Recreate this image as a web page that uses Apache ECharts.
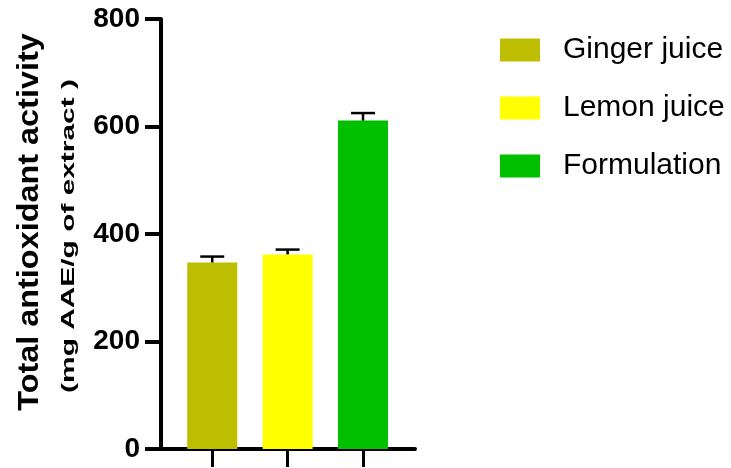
<!DOCTYPE html>
<html>
<head>
<meta charset="UTF-8">
<title>Total antioxidant activity</title>
<script src="https://cdn.jsdelivr.net/npm/echarts@6/dist/echarts.min.js"></script>
<style>
  html, body { margin: 0; padding: 0; background: #fff; }
  #main { width: 731px; height: 468px; }
</style>
</head>
<body>
<div id="main"></div>
<script>
// data
var categories = ['Ginger juice', 'Lemon juice', 'Formulation'];
var means = [347, 362, 611];
var errs = [11, 9, 14];
var colors = ['#BEBE00', '#FFFF00', '#00C000'];
var yTicks = [0, 200, 400, 600, 800];

var font = 'Liberation Sans, Arial, sans-serif';
var chart = echarts.init(document.getElementById('main'));

// one bar series per group so the legend gets three entries
var series = categories.map(function (name, i) {
    return {
        name: name,
        type: 'bar',
        barWidth: 50,
        barGap: '-100%',
        itemStyle: { color: colors[i] },
        data: [[i, means[i]]]
    };
});

// error bars (upper only, GraphPad style)
series.push({
    type: 'custom',
    z: 5,
    data: means.map(function (m, i) { return [i, m, errs[i]]; }),
    renderItem: function (params, api) {
        var x = api.value(0), m = api.value(1), e = api.value(2);
        var base = api.coord([x, m]);
        var top = api.coord([x, m + e]);
        var st = { stroke: '#000', lineWidth: 2.5 };
        return {
            type: 'group',
            children: [
                { type: 'line', shape: { x1: base[0], y1: base[1], x2: top[0], y2: top[1] }, style: st },
                { type: 'line', shape: { x1: top[0] - 12, y1: top[1], x2: top[0] + 12, y2: top[1] }, style: st }
            ]
        };
    }
});

var option = {
    animation: false,
    backgroundColor: '#fff',
    grid: { left: 161, right: 316, top: 19, bottom: 19 },
    legend: {
        orient: 'vertical',
        left: 500,
        top: 35,
        padding: 0,
        itemWidth: 40,
        itemHeight: 23,
        itemGap: 28,
        icon: 'rect',
        data: categories,
        textStyle: { fontFamily: font, fontSize: 30, color: '#000', padding: [0, 0, 0, 18] }
    },
    xAxis: {
        type: 'value',
        min: -0.68,
        max: 2.69,
        interval: 1,
        splitLine: { show: false },
        axisLine: { show: true, onZero: false, lineStyle: { color: '#000', width: 4 } },
        axisTick: { show: true, length: 18, customValues: [0, 1, 2], lineStyle: { color: '#000', width: 3 } },
        axisLabel: { show: false }
    },
    yAxis: {
        type: 'value',
        min: yTicks[0],
        max: yTicks[yTicks.length - 1],
        interval: 200,
        splitLine: { show: false },
        axisLine: { show: true, onZero: false, lineStyle: { color: '#000', width: 4 } },
        axisTick: { show: true, length: 16, lineStyle: { color: '#000', width: 4 } },
        axisLabel: { margin: 21, fontFamily: font, fontSize: 28, fontWeight: 'bold', color: '#000' }
    },
    graphic: [
        {
            type: 'text',
            x: 30, y: 222,
            rotation: Math.PI / 2,
            scaleX: 1.08,
            style: {
                text: 'Total antioxidant activity',
                font: 'bold 30px ' + font,
                fill: '#000',
                textAlign: 'center',
                textVerticalAlign: 'middle'
            }
        },
        {
            type: 'text',
            x: 69, y: 236,
            rotation: Math.PI / 2,
            scaleX: 1.66,
            style: {
                text: '(mg AAE/g of extract )',
                font: 'bold 18px ' + font,
                fill: '#000',
                textAlign: 'center',
                textVerticalAlign: 'middle'
            }
        }
    ],
    series: series
};
chart.setOption(option);
</script>
</body>
</html>
